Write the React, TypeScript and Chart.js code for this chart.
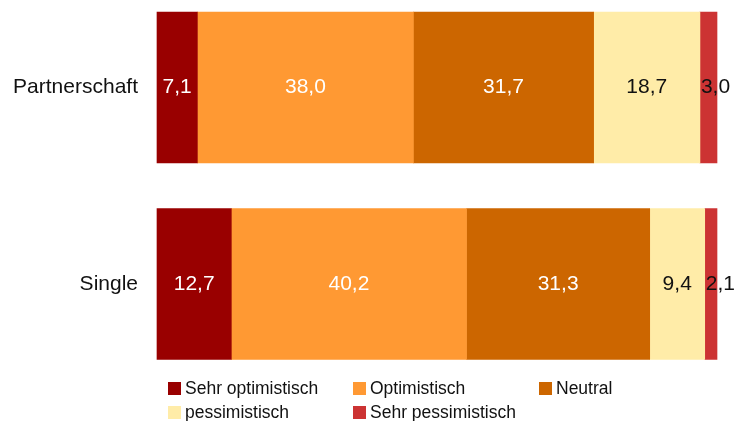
import React, { useEffect, useRef } from 'react';
import { Chart, registerables } from 'chart.js';

Chart.register(...registerables);

const categories = ['Partnerschaft', 'Single'];
const seriesNames = ['Sehr optimistisch', 'Optimistisch', 'Neutral', 'pessimistisch', 'Sehr pessimistisch'];
const sehrOptimistisch = [7.1, 12.7];
const optimistisch = [38.0, 40.2];
const neutral = [31.7, 31.3];
const pessimistisch = [18.7, 9.4];
const sehrPessimistisch = [3.0, 2.1];
const seriesValues = [sehrOptimistisch, optimistisch, neutral, pessimistisch, sehrPessimistisch];
const colors = ['#990000', '#FF9933', '#CC6600', '#FFECA8', '#CC3333'];
const labelColors = ['#ffffff', '#ffffff', '#ffffff', '#111111', '#111111'];

const FONT = "'Liberation Sans', Arial, Helvetica, sans-serif";

const totals = categories.map((_, i) => seriesValues.reduce((s, arr) => s + arr[i], 0));

const fmt = (v: number) => v.toFixed(1).replace('.', ',');

const labelPlugin = {
  id: 'segLabels',
  afterDatasetsDraw(chart: any) {
    const ctx = chart.ctx;
    ctx.save();
    ctx.font = `21px ${FONT}`;
    ctx.textBaseline = 'middle';
    ctx.textAlign = 'center';
    chart.data.datasets.forEach((ds: any, di: number) => {
      const meta = chart.getDatasetMeta(di);
      meta.data.forEach((el: any, i: number) => {
        const p = el.getProps(['x', 'base', 'y'], true);
        const start = Math.min(p.x, p.base);
        const end = Math.max(p.x, p.base);
        const text = fmt(seriesValues[di][i]);
        const w = ctx.measureText(text).width;
        let cx = (start + end) / 2;
        if (w > end - start) cx = start + w / 2 + 1;
        ctx.fillStyle = labelColors[di];
        ctx.fillText(text, cx, p.y);
      });
    });
    ctx.restore();
  },
};

const legendPlugin = {
  id: 'gridLegend',
  afterDraw(chart: any) {
    const ctx = chart.ctx;
    const cols = [168, 353, 539];
    const rows = [382, 406];
    ctx.save();
    ctx.font = `17.5px ${FONT}`;
    ctx.textBaseline = 'middle';
    ctx.textAlign = 'left';
    seriesNames.forEach((name, i) => {
      const x = cols[i % 3];
      const y = rows[Math.floor(i / 3)];
      ctx.fillStyle = colors[i];
      ctx.fillRect(x, y, 13, 13);
      ctx.fillStyle = '#111111';
      ctx.fillText(name, x + 17, y + 7);
    });
    ctx.restore();
  },
};

export default function App() {
  const ref = useRef<HTMLCanvasElement | null>(null);
  useEffect(() => {
    if (!ref.current) return;
    const chart = new Chart(ref.current, {
      type: 'bar',
      data: {
        labels: categories,
        datasets: seriesNames.map((name, di) => ({
          label: name,
          data: seriesValues[di].map((v, i) => (v / totals[i]) * 100),
          backgroundColor: colors[di],
          borderWidth: 0,
          barThickness: 151,
          clip: false as any,
        })),
      },
      options: {
        indexAxis: 'y',
        responsive: false,
        animation: false,
        maintainAspectRatio: false,
        layout: { padding: { top: 87.5, bottom: 137, left: 0, right: 23 } },
        plugins: { legend: { display: false }, tooltip: { enabled: false } },
        scales: {
          x: { stacked: true, display: false, min: 0, max: 100 },
          y: {
            stacked: true,
            offset: false,
            grid: { display: false },
            border: { display: false },
            ticks: { padding: 11, color: '#111111', font: { family: FONT, size: 21 } },
            afterFit(scale: any) {
              scale.width = 157;
            },
          },
        },
      },
      plugins: [labelPlugin, legendPlugin],
    });
    return () => chart.destroy();
  }, []);
  return (
    <div style={{ position: 'fixed', left: 0, top: 0, width: 740, height: 421, background: '#fff' }}>
      <canvas ref={ref} width={740} height={421} style={{ width: 740, height: 421 }} />
    </div>
  );
}
